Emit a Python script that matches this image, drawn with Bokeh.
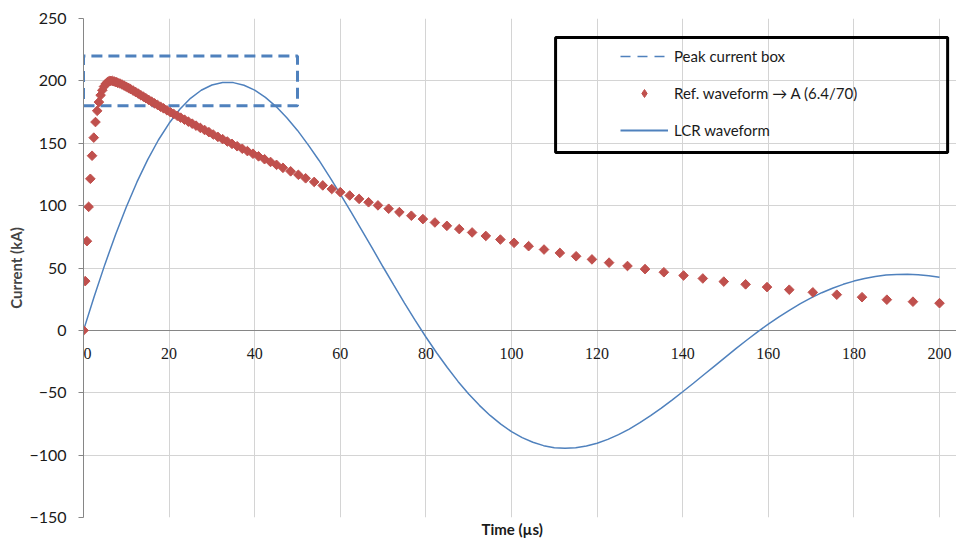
from bokeh.plotting import figure
from bokeh.models import (ColumnDataSource, FixedTicker, Legend, LegendItem, LabelSet,
                          BoxAnnotation, Range1d, Grid, Title)
from bokeh.embed import file_html
from bokeh.resources import INLINE

# ---------------- data ----------------
x_ticks = [0, 20, 40, 60, 80, 100, 120, 140, 160, 180, 200]
x_tick_labels = ["0", "20", "40", "60", "80", "100", "120", "140", "160", "180", "200"]
y_ticks = [-150, -100, -50, 0, 50, 100, 150, 200, 250]

# Peak current box (µs, kA)
box_t = [0, 50, 50, 0, 0]
box_i = [180, 180, 220, 220, 180]

# Reference waveform 6.4/70 (µs, kA)
ref_t = [0, 0.4, 0.8, 1.2, 1.6, 2.0, 2.4, 2.8, 3.2, 3.6, 4.0, 4.4, 4.8, 5.2, 5.6, 6.0,
         6.4, 6.8, 7.2, 7.6, 8.0, 8.5, 9.0, 9.5, 10.0, 10.5, 11.0, 11.6, 12.2, 12.8,
         13.4, 14.0, 14.6, 15.2, 15.9, 16.6, 17.3, 18.0, 18.7, 19.5, 20.3, 21.1, 21.9,
         22.7, 23.6, 24.5, 25.4, 26.3, 27.3, 28.3, 29.3, 30.3, 31.4, 32.5, 33.6, 34.7,
         35.9, 37.1, 38.3, 39.6, 40.9, 42.3, 43.7, 45.1, 46.6, 48.4, 50.2, 51.9, 53.9,
         55.9, 58.0, 60.0, 62.2, 64.4, 66.6, 68.8, 71.3, 73.8, 76.6, 79.3, 82.1, 84.9,
         87.8, 90.8, 94.0, 97.4, 100.6, 104.0, 107.6, 111.3, 115.1, 118.8, 122.8, 127.1,
         131.2, 135.6, 140.2, 144.7, 149.6, 154.7, 159.7, 164.9, 170.4, 176.0, 181.9,
         187.7, 193.8, 200.0]
ref_i = [0, 39.5, 71.5, 99.0, 121.5, 140.0, 154.5, 167.0, 176.0, 183.0, 188.5, 192.5,
         195.5, 197.6, 199.0, 199.8, 200.0, 199.9, 199.5, 199.0, 198.4, 197.9, 197.1,
         196.2, 195.3, 194.4, 193.4, 192.2, 191.0, 189.8, 188.5, 187.3, 186.1, 184.8,
         183.4, 182.0, 180.7, 179.3, 178.0, 176.4, 174.9, 173.4, 172.0, 170.5, 168.9,
         167.3, 165.7, 164.1, 162.3, 160.6, 158.9, 157.0, 155.1, 153.3, 151.4, 149.5,
         147.6, 145.6, 143.7, 141.6, 139.5, 137.2, 135.0, 132.7, 130.3, 127.5, 124.7,
         121.9, 119.0, 116.2, 113.3, 110.8, 108.1, 105.4, 102.7, 100.2, 97.5, 94.8,
         91.9, 89.2, 86.5, 83.8, 81.2, 78.5, 75.7, 72.8, 70.2, 67.5, 64.8, 62.1, 59.4,
         56.9, 54.3, 51.6, 49.1, 46.6, 44.0, 41.6, 39.1, 36.9, 34.7, 32.6, 30.5, 28.6,
         26.6, 24.6, 23.0, 21.8]

# LCR waveform (µs, kA)
lcr_t = [0, 2.5, 5, 7.5, 10, 12.5, 15, 17.5, 20, 22.5, 25, 27.5, 30, 32.5, 35, 37.5,
         40, 42.5, 45, 47.5, 50, 52.5, 55, 57.5, 60, 62.5, 65, 67.5, 70, 72.5, 75, 77.5,
         80, 82.5, 85, 87.5, 90, 92.5, 95, 97.5, 100, 102.5, 105, 107.5, 110, 112.5,
         115, 117.5, 120, 122.5, 125, 127.5, 130, 132.5, 135, 137.5, 140, 142.5, 145,
         147.5, 150, 152.5, 155, 157.5, 160, 162.5, 165, 167.5, 170, 172.5, 175, 177.5,
         180, 182.5, 185, 187.5, 190, 192.5, 195, 197.5, 200]
lcr_i = [0, 27.2, 52.9, 76.9, 98.9, 119.0, 136.9, 152.6, 166.0, 177.2, 186.0, 192.5,
         196.7, 198.7, 198.6, 196.5, 192.6, 186.8, 179.4, 170.5, 160.3, 148.7, 136.4,
         123.1, 109.2, 95.0, 80.4, 65.7, 50.8, 36.3, 21.9, 8.0, -5.3, -17.9, -29.8,
         -40.9, -51.0, -60.1, -68.2, -75.2, -81.2, -86.0, -89.7, -92.4, -94.0, -94.5,
         -94.1, -92.7, -90.5, -87.4, -83.6, -79.1, -74.0, -68.3, -62.3, -55.9, -49.2,
         -42.4, -35.4, -28.4, -21.4, -14.4, -7.7, -1.2, 5.0, 10.8, 16.3, 21.4, 26.0,
         30.2, 33.8, 36.9, 39.5, 41.6, 43.2, 44.3, 44.8, 44.9, 44.5, 43.7, 42.5]

FONT = "Lato"
BLUE = "#4F81BD"
RED = "#C0504D"
GRID = "#D4D4D4"
AXIS = "#868686"
TXT = "#1a1a1a"

X_MIN, X_MAX = x_ticks[0], x_ticks[-1]
# frame runs from px 83 to the right edge (956); x=200 lands at px 939
x_end = X_MAX * (956 - 83) / (939 - 83)

p = figure(width=956, height=541, output_backend="svg", toolbar_location=None,
           x_range=Range1d(X_MIN, x_end), y_range=Range1d(y_ticks[0], y_ticks[-1]),
           min_border_left=83, min_border_right=0, min_border_top=18,
           min_border_bottom=24)
p.outline_line_color = None
p.background_fill_color = "white"
p.border_fill_color = "white"

# grids
p.xgrid.ticker = FixedTicker(ticks=x_ticks)
p.ygrid.ticker = FixedTicker(ticks=y_ticks)
p.xgrid.grid_line_color = GRID
p.ygrid.grid_line_color = GRID
p.ygrid.bounds = (X_MIN, X_MAX)
p.add_layout(Grid(dimension=1, ticker=FixedTicker(ticks=[0]), bounds=(X_MIN, X_MAX),
                  grid_line_color=AXIS, grid_line_width=1))

# y axis
p.yaxis.ticker = FixedTicker(ticks=y_ticks)
p.yaxis.axis_line_color = AXIS
p.yaxis.major_tick_line_color = AXIS
p.yaxis.major_tick_out = 5
p.yaxis.major_tick_in = 0
p.yaxis.minor_tick_line_color = None
p.yaxis.major_label_text_font = FONT
p.yaxis.major_label_text_font_size = "16px"
p.yaxis.major_label_text_color = TXT
p.yaxis.major_label_standoff = 12
p.yaxis.axis_label = "Current (kA)"
p.yaxis.axis_label_text_font = FONT
p.yaxis.axis_label_text_font_style = "bold"
p.yaxis.axis_label_text_font_size = "15px"
p.yaxis.axis_label_standoff = 1

# x axis: hidden, title drawn as a below-title aligned on the data span centre
p.xaxis.visible = False
p.add_layout(Title(text="Time (µs)", align="left", offset=398, standoff=0,
                   text_font=FONT, text_font_style="bold", text_font_size="15px",
                   text_color=TXT), "below")

# x tick labels at the zero line
lab_src = ColumnDataSource(dict(x=x_ticks, y=[0] * len(x_ticks), text=x_tick_labels,
                                dx=[4] + [0] * (len(x_ticks) - 1)))
p.add_layout(LabelSet(x="x", y="y", text="text", source=lab_src, text_align="center",
                      text_baseline="middle", x_offset="dx", y_offset=-23,
                      text_font=FONT, text_font_size="16px", text_color=TXT))

# series
r_box = p.line(box_t, box_i, line_color=BLUE, line_width=3, line_dash="11 6")
r_lcr = p.line(lcr_t, lcr_i, line_color=BLUE, line_width=1.5)
r_ref = p.scatter(ref_t, ref_i, marker="square", angle=0.785398, size=6.8,
                  fill_color=RED, line_color=RED)

# legend symbols (renderers with no visible data, styled as in the legend)
nan = float("nan")
lg_box = p.line("x", "y", source=ColumnDataSource(dict(x=[nan], y=[nan])),
                line_color=BLUE, line_width=1.3, line_dash="10 7")
lg_ref = p.scatter("x", "y", source=ColumnDataSource(dict(x=[nan], y=[nan])),
                   marker="diamond", size=8, fill_color=RED, line_color=RED)
lg_lcr = p.line("x", "y", source=ColumnDataSource(dict(x=[nan], y=[nan])),
                line_color=BLUE, line_width=2)

legend = Legend(items=[LegendItem(label="Peak current box", renderers=[lg_box]),
                       LegendItem(label="Ref. waveform → A (6.4/70)", renderers=[lg_ref]),
                       LegendItem(label="LCR waveform", renderers=[lg_lcr])],
                location=(537, 377), padding=0, margin=0, spacing=17,
                glyph_width=48, glyph_height=20, label_height=20, label_standoff=6,
                label_text_font=FONT, label_text_font_size="15px",
                label_text_color=TXT, border_line_color=None,
                background_fill_alpha=0)
p.add_layout(legend)

p.add_layout(BoxAnnotation(left=110.3, right=201.9, top=234.8, bottom=142.5,
                           fill_alpha=0, line_color="black", line_alpha=1,
                           line_width=3))

open("out.html", "w").write(file_html(p, INLINE))
